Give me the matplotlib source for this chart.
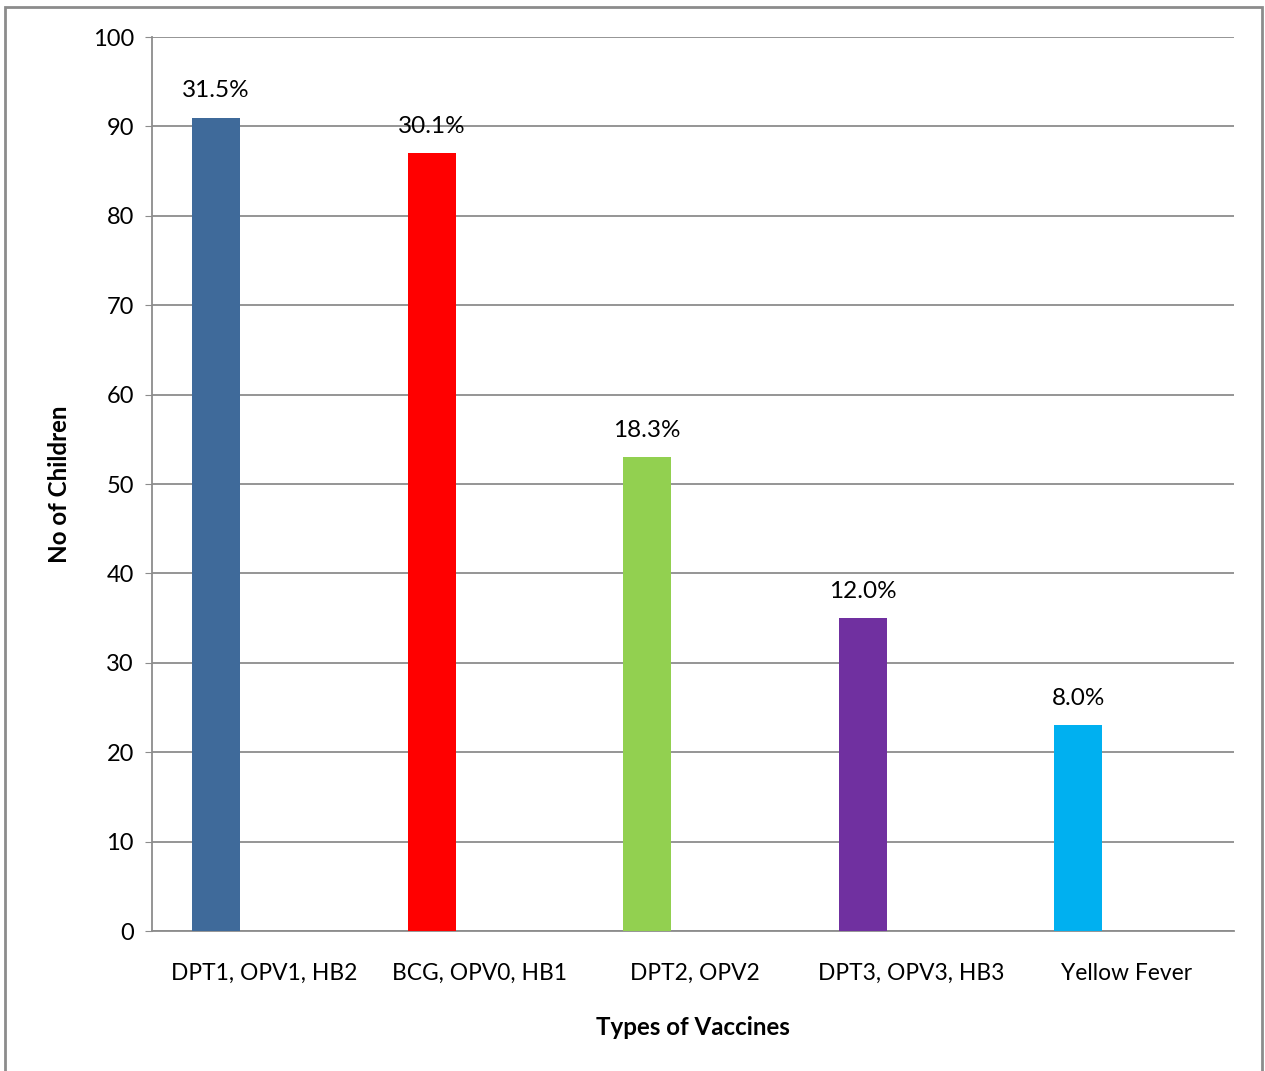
import matplotlib.pyplot as plt
from matplotlib.patches import Rectangle

vaccines = ['DPT1, OPV1, HB2', 'BCG, OPV0, HB1', 'DPT2, OPV2', 'DPT3, OPV3, HB3', 'Yellow Fever']
children = [91, 87, 53, 35, 23]
percent_labels = ['31.5%', '30.1%', '18.3%', '12.0%', '8.0%']
colors = ['#3F6A9A', '#FF0000', '#92D050', '#7030A0', '#00B0F0']

plt.rcParams['font.family'] = ['Lato', 'DejaVu Sans']

fig = plt.figure(figsize=(12.65, 10.71), dpi=100)
ax = fig.add_axes([0.1202, 0.1307, 0.8553, 0.8347])

# outer chart border (bottom edge falls off the canvas)
fig.patches.append(Rectangle((5 / 1265, -0.01), 1257 / 1265, 1 - 7 / 1071 + 0.01,
                             transform=fig.transFigure, fill=False,
                             edgecolor='#8c8c8c', linewidth=2))

pos = range(len(vaccines))
bar_x = [p - 0.223 for p in pos]
bars = ax.bar(bar_x, children, width=0.222, color=colors, zorder=3)

for b, lab in zip(bars, percent_labels):
    ax.text(b.get_x() + b.get_width() / 2, b.get_height() + 1.8, lab,
            ha='center', va='bottom', fontsize=17.5)

ax.set_xlim(-0.52, 4.50)
ax.set_ylim(0, 100)
ax.set_yticks(range(0, 101, 10))
ax.set_xticks(list(pos))
ax.set_xticklabels(vaccines, fontsize=16.4)
ax.tick_params(axis='x', length=0, pad=23)
ax.tick_params(axis='y', length=5, color='#8c8c8c', labelsize=17, pad=8)
ax.grid(axis='y', color='#8c8c8c', linewidth=1.3, zorder=0)

for s in ['top', 'right']:
    ax.spines[s].set_visible(False)
for s in ['left', 'bottom']:
    ax.spines[s].set_color('#8c8c8c')
    ax.spines[s].set_linewidth(1.3)

ax.set_xlabel('Types of Vaccines', fontsize=17.4, fontweight='bold', labelpad=23)
ax.set_ylabel('No of Children', fontsize=17.4, fontweight='bold', labelpad=16)

fig.savefig('out.png', dpi=100)
